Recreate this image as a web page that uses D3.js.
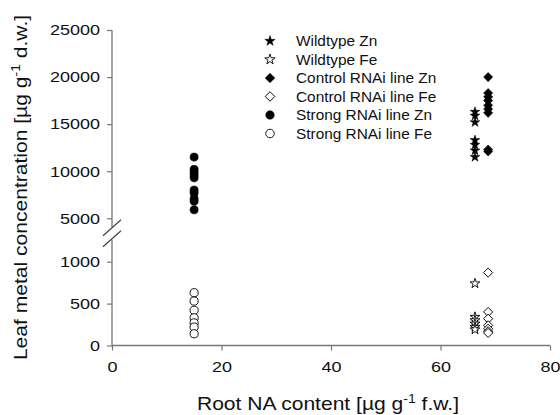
<!DOCTYPE html>
<html>
<head>
<meta charset="utf-8">
<script src="https://cdn.jsdelivr.net/npm/d3@7"></script>
<style>
  body { margin: 0; background: #fff; }
  text { font-family: "Liberation Sans", Arial, Helvetica, sans-serif; fill: #111; }
</style>
</head>
<body>
<svg id="chart" width="560" height="415"></svg>
<script>
// ---- data ----
const seriesNames = ["Wildtype Zn", "Wildtype Fe", "Control RNAi line Zn", "Control RNAi line Fe", "Strong RNAi line Zn", "Strong RNAi line Fe"];
const seriesMetal = ["Zn", "Fe", "Zn", "Fe", "Zn", "Fe"];
const seriesShape = ["star", "star", "diamond", "diamond", "circle", "circle"];
const seriesFilled = [true, false, true, false, true, false];
const seriesX = [66.3, 66.3, 68.7, 68.7, 15, 15];
const wildtypeZn = [16300, 15900, 15200, 13300, 12800, 12200, 11500];
const wildtypeFe = [740, 340, 300, 260, 220, 190];
const controlZn = [20000, 18300, 17900, 17500, 17000, 16600, 16200, 12300, 12100];
const controlFe = [870, 400, 320, 240, 200, 170, 150];
const strongZn = [11500, 10200, 9900, 9600, 9300, 8000, 7700, 7100, 6800, 5900];
const strongFe = [630, 530, 420, 330, 270, 220, 140];
const seriesValues = [wildtypeZn, wildtypeFe, controlZn, controlFe, strongZn, strongFe];

const xTicks = [0, 20, 40, 60, 80];
const yTicksUpper = [5000, 10000, 15000, 20000, 25000];
const yTicksLower = [0, 500, 1000];

// ---- layout ----
const svg = d3.select("#chart");
const axisColor = "#777";
const SX = 1.2; // horizontal text stretch

const x = d3.scaleLinear().domain([0, 80]).range([112, 550]);
const yU = d3.scaleLinear().domain([5000, 25000]).range([218.3, 30]);
const yL = d3.scaleLinear().domain([0, 1000]).range([345.5, 261.7]);

// axes
function styleAxis(g) {
  g.select(".domain").remove();
  g.selectAll(".tick line").attr("stroke", axisColor).attr("stroke-width", 1.2);
  g.selectAll(".tick text").attr("fill", "#111").style("font-size", "15px")
    .attr("font-family", "Liberation Sans, Arial, sans-serif");
}

const gx = svg.append("g").attr("transform", `translate(0,${yL(0)})`)
  .call(d3.axisBottom(x).tickValues(xTicks).tickSize(5).tickPadding(11).tickFormat(d3.format("d")));
styleAxis(gx);
gx.selectAll(".tick text").attr("transform", `scale(${SX},1)`);

const gyU = svg.append("g").attr("transform", `translate(${x(0)},0)`)
  .call(d3.axisLeft(yU).tickValues(yTicksUpper).tickSize(5).tickPadding(9).tickFormat(d3.format("d")));
styleAxis(gyU);
gyU.selectAll(".tick text").attr("transform", `scale(${SX},1)`).attr("x", -12 / SX);

const gyL = svg.append("g").attr("transform", `translate(${x(0)},0)`)
  .call(d3.axisLeft(yL).tickValues(yTicksLower).tickSize(5).tickPadding(9).tickFormat(d3.format("d")));
styleAxis(gyL);
gyL.selectAll(".tick text").attr("transform", `scale(${SX},1)`).attr("x", -12 / SX);

// axis lines with break
svg.append("line").attr("x1", x(0)).attr("x2", x(80)).attr("y1", yL(0)).attr("y2", yL(0))
  .attr("stroke", axisColor).attr("stroke-width", 1.3);
svg.append("line").attr("x1", x(0)).attr("x2", x(0)).attr("y1", yU(25000)).attr("y2", yU(5000) + 9)
  .attr("stroke", axisColor).attr("stroke-width", 1.3);
svg.append("line").attr("x1", x(0)).attr("x2", x(0)).attr("y1", yL(1000) - 22).attr("y2", yL(0))
  .attr("stroke", axisColor).attr("stroke-width", 1.3);
// break marks
[0, 11].forEach(off => {
  svg.append("line")
    .attr("x1", x(0) - 9).attr("y1", yU(5000) + 17.5 + off)
    .attr("x2", x(0) + 9).attr("y2", yU(5000) + 1.5 + off)
    .attr("stroke", "#444").attr("stroke-width", 1.2);
});

// symbols
function symbolPath(shape, scale) {
  if (shape === "star") return d3.symbol(d3.symbolStar, 30 * scale)();
  if (shape === "diamond") return d3.symbol(d3.symbolSquare, 42 * scale)();
  return d3.symbol(d3.symbolCircle, 52 * scale)();
}
function drawMarker(g, i, cx, cy, scale) {
  const shape = seriesShape[i];
  const rot = shape === "diamond" ? " rotate(45)" : "";
  g.append("path")
    .attr("d", symbolPath(shape, scale))
    .attr("transform", `translate(${cx},${cy})${rot}`)
    .attr("fill", seriesFilled[i] ? "#000" : "#fff")
    .attr("stroke", "#000")
    .attr("stroke-width", seriesFilled[i] ? 0.5 : 0.9);
}

const marks = svg.append("g");
seriesValues.forEach((vals, i) => {
  const yS = seriesMetal[i] === "Zn" ? yU : yL;
  vals.forEach(v => drawMarker(marks, i, x(seriesX[i]), yS(v), 1));
});

// legend
const legend = svg.append("g");
seriesNames.forEach((name, i) => {
  const cy = 41 + i * 18.5;
  drawMarker(legend, i, 270, cy, 1.1);
  legend.append("text")
    .attr("transform", `translate(296,${cy + 5.3}) scale(1.1,1)`)
    .style("font-size", "14px")
    .text(name);
});

// axis titles
const xt = svg.append("text")
  .attr("transform", `translate(328,410) scale(1.17,1)`)
  .attr("text-anchor", "middle").style("font-size", "18px");
xt.append("tspan").text("Root NA content [\u00b5g g");
xt.append("tspan").attr("dy", -7).style("font-size", "12px").text("-1");
xt.append("tspan").attr("dy", 7).text(" f.w.]");

const yt = svg.append("text")
  .attr("transform", `translate(27,187.5) rotate(-90) scale(1.17,1)`)
  .attr("text-anchor", "middle").style("font-size", "18px");
yt.append("tspan").text("Leaf metal concentration [\u00b5g g");
yt.append("tspan").attr("dy", -7).style("font-size", "12px").text("-1");
yt.append("tspan").attr("dy", 7).text(" d.w.]");
</script>
</body>
</html>
